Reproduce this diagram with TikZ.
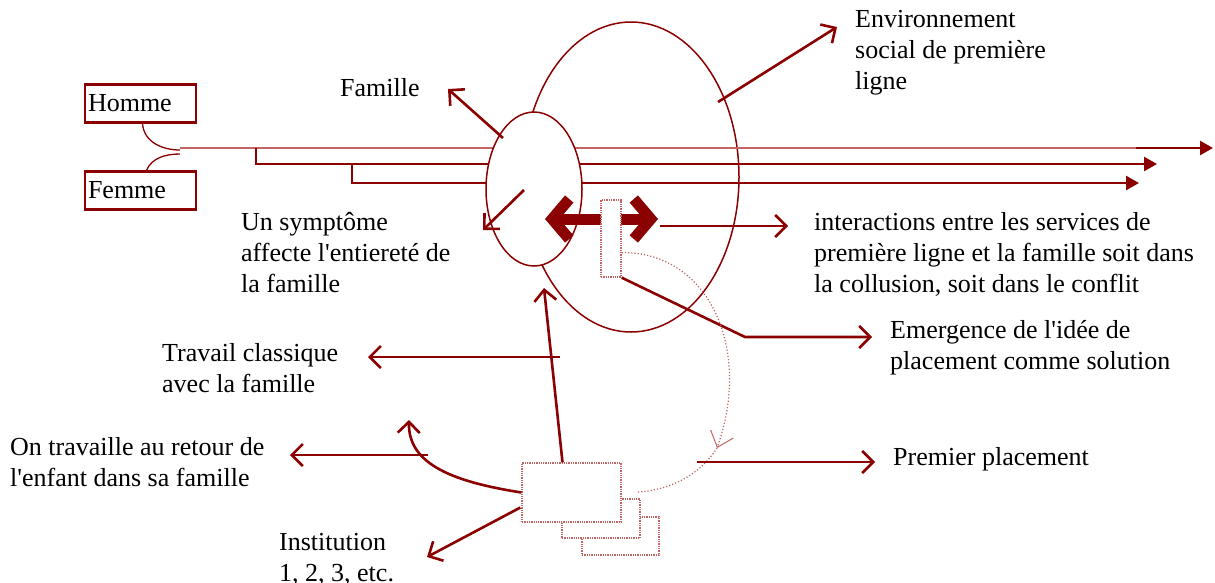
\documentclass[tikz,border=0pt]{standalone}
\usepackage{fontspec}
\setmainfont{Liberation Serif}[Ligatures=TeXOff]
\usetikzlibrary{arrows.meta,shapes.geometric,calc}
\definecolor{rouge}{RGB}{139,0,0}
\definecolor{rougeclair}{RGB}{192,100,100}
\tikzset{
  texte/.style={anchor=north west, inner sep=0pt, align=left,
    font=\fontsize{26}{31}\selectfont},
  boite/.style={draw=rouge, line width=2.5pt, text width=105pt,
    inner xsep=3pt, minimum height=38pt, align=left,
    font=\fontsize{26}{31}\selectfont},
  contour/.style={ellipse, draw=rouge, line width=1.5pt, inner sep=0pt},
  pointille/.style={rectangle, draw=rougeclair, densely dotted,
    line width=1.3pt, fill=white, inner sep=0pt},
  fleche/.style={draw=rouge, line width=2.6pt,
    -{Straight Barb[length=11pt,width=22pt]}},
  lignee/.style={draw=rouge, line width=2.4pt,
    -{Triangle[length=13pt,width=14pt]}},
  lien/.style={draw=rouge, line width=1.3pt},
  etape/.style={draw=rougeclair, dotted, line width=1.2pt}
}

\begin{document}
\begin{tikzpicture}[x=1pt,y=-1pt]
\useasboundingbox (0,0) rectangle (1215,582);

% Couple
\node[boite] (homme) at (140.5,103.5) {Homme};
\node[boite] (femme) at (140.5,190.5) {Femme};
\coordinate (union) at (180,148);
\coordinate (b1) at (256,148);
\coordinate (b2) at (352,164);
\draw[lien] ($(homme.south)+(2,0)$) .. controls (144,142) and (162,150) .. (180,150);
\draw[lien] ($(femme.north)+(6,0)$) .. controls (152,158) and (165,154) .. (180,154);

% Environnement social
\node[contour, minimum width=216pt, minimum height=310pt] (envir) at (631,177) {};

% Lignees
\draw[draw=rougeclair, line width=2pt] (union) -- (1140,148);
\draw[lignee] (1136,148) -- (1213,148);
\draw[lignee] (b1) -- (256,164) -- (1157,164);
\draw[lignee] (b2) -- (352,183) -- (1139,183);

% Famille
\node[contour, fill=white, minimum width=96pt, minimum height=154pt] (fam) at (534,189) {};

% Textes
\node[texte] (famille) at (340,78) {Famille};
\node[texte] (social) at (855,10) {Environnement\\social de première\\ligne};
\node[texte] (symptome) at (241,212) {Un symptôme\\affecte l'entiereté de\\la famille};
\node[texte] (interact) at (814,212) {interactions entre les services de\\première ligne et la famille soit dans\\la collusion, soit dans le conflit};
\node[texte] (emerg) at (890,320) {Emergence de l'idée de\\placement comme solution};
\node[texte] (premier) at (893,447) {Premier placement};
\node[texte] (classique) at (162,343) {Travail classique\\avec la famille};
\node[texte] (retour) at (10,437) {On travaille au retour de\\l'enfant dans sa famille};
\node[texte] (instit) at (279,533) {Institution\\1, 2, 3, etc.};

% Fleches vers les textes
\coordinate (f-fam) at (448,89);
\coordinate (f-soc) at (837,27);
\coordinate (f-sym) at (483,230);
\coordinate (f-int) at (788,226);
\coordinate (f-eme) at (872,337);
\coordinate (f-pre) at (875,462);
\coordinate (f-cla) at (368,357);
\coordinate (f-ret) at (290,455);
\coordinate (f-ins) at (427,557);
\coordinate (f-cou) at (409,420);
\coordinate (f-haut) at (544,288);

\draw[fleche] (503,138) -- (f-fam);
\draw[fleche] (718,102) -- (f-soc);
\draw[fleche] (524,190) -- (f-sym);
\draw[draw=rouge, line width=11pt,
  {Straight Barb[length=17pt,width=40pt]}-{Straight Barb[length=17pt,width=40pt]}]
  (545,219) -- (658,219);
\draw[fleche] (660,226) -- (f-int);

% Demande de placement
\node[pointille, minimum width=20pt, minimum height=77pt] (appel) at (611,238.5) {};
\draw[fleche] (appel.south east) -- (745,337) -- (f-eme);

% Institutions
\node[pointille, minimum width=77pt, minimum height=38pt] (inst3) at (620.5,536) {};
\node[pointille, minimum width=78pt, minimum height=39pt] (inst2) at (601,518.5) {};
\node[pointille, minimum width=99pt, minimum height=59pt] (inst1) at (571.5,492.5) {};

\coordinate (place) at (717,448);
\coordinate (arrivee) at (638,492);
\draw[etape, -{Straight Barb[length=14pt,width=24pt,line width=1pt]}]
  ($(appel.east)+(0,14)$) .. controls (710,252) and (752,350) .. (place);
\draw[etape] (place) .. controls (700,475) and (670,490) .. (arrivee);

\draw[fleche] (697,462) -- (f-pre);
\draw[fleche] ($(inst1.north)+(-9,0)$) -- (f-haut);
\draw[fleche] (560,357) -- (f-cla);
\draw[fleche] (428,455) -- (f-ret);
\draw[fleche] (inst1.west) .. controls (455,482) and (408,465) .. (f-cou);
\draw[fleche] ($(inst1.west)+(-1,15)$) -- (f-ins);

\end{tikzpicture}
\end{document}
